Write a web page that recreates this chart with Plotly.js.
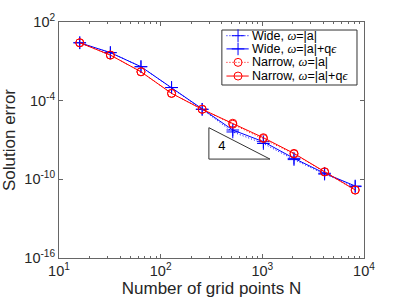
<!DOCTYPE html>
<html><head><meta charset="utf-8">
<script src="https://cdn.plot.ly/plotly-3.0.1.min.js"></script>
<style>html,body{margin:0;padding:0;background:#fff}#c{width:402px;height:302px}</style>
</head><body><div id="c"></div>
<script>
const gridPoints = [16, 32, 64, 128, 256, 512, 1024, 2048, 4096, 8192];
const wideAbs    = [2.6, 0.46, 0.039, 1.0e-3, 2.2e-5, 4.1e-7, 5.4e-8, 3.2e-9, 2.5e-10, 2.8e-11];
const wideEps    = [2.6, 0.46, 0.039, 1.0e-3, 2.2e-5, 5.8e-7, 7.4e-8, 4.0e-9, 2.9e-10, 3.1e-11];
const narrowAbs  = [2.6, 0.30, 0.016, 3.6e-4, 2.2e-5, 1.6e-6, 1.3e-7, 8.7e-9, 3.6e-10, 1.5e-11];
const narrowEps  = [2.6, 0.30, 0.016, 3.6e-4, 2.2e-5, 1.9e-6, 1.5e-7, 9.5e-9, 3.8e-10, 1.55e-11];
const seriesNames = [
  'Wide, <i style="font-family:Liberation Serif">ω</i>=|a|',
  'Wide, <i style="font-family:Liberation Serif">ω</i>=|a|+q<i style="font-family:Liberation Serif">ϵ</i>',
  'Narrow, <i style="font-family:Liberation Serif">ω</i>=|a|',
  'Narrow, <i style="font-family:Liberation Serif">ω</i>=|a|+q<i style="font-family:Liberation Serif">ϵ</i>'
];
const slopeTriX = [298, 298, 1189, 298];
const slopeTriY = [8.7e-7, 3.5e-9, 3.5e-9, 8.7e-7];
const slopeLabelX = [401];
const slopeLabelY = [2.9e-8];
const slopeLabel = ['4'];
const xTickVals = [10, 100, 1000, 10000];
const xTickText = ['10<sup>1</sup>', '10<sup>2</sup>', '10<sup>3</sup>', '10<sup>4</sup>'];
const yTickVals = [1e2, 1e-4, 1e-10, 1e-16];
const yTickText = ['10<sup>2</sup>', '10<sup>-4</sup>', '10<sup>-10</sup>', '10<sup>-16</sup>'];

const BLUE = '#0000ff', RED = '#ff0000';
const DOT = '1px,2px';
const styles = [
  {color: BLUE, dash: DOT, symbol: 'cross-thin-open'},
  {color: BLUE, dash: 'solid', symbol: 'cross-thin-open'},
  {color: RED, dash: DOT, symbol: 'circle-open'},
  {color: RED, dash: 'solid', symbol: 'circle-open'}
];
const seriesValues = [wideAbs, wideEps, narrowAbs, narrowEps];
const data = [];
seriesValues.forEach((vals, i) => {
  const s = styles[i];
  data.push({x: gridPoints, y: vals, name: seriesNames[i], type: 'scatter', mode: 'lines+markers',
    showlegend: false,
    line: {color: s.color, width: 1, dash: s.dash},
    marker: {symbol: s.symbol, size: s.symbol === 'circle-open' ? 8 : 9, color: s.color,
             line: {color: s.color, width: 1}}});
});
data.push({x: slopeTriX, y: slopeTriY, type: 'scatter', mode: 'lines', showlegend: false, hoverinfo: 'skip',
   line: {color: '#333', width: 1}});
data.push({x: slopeLabelX, y: slopeLabelY, text: slopeLabel, type: 'scatter', mode: 'text', showlegend: false,
   hoverinfo: 'skip', textfont: {family: 'Liberation Sans, Arial', size: 13, color: '#000'}});

// legend drawn on an overlay axis spanning the plot area (0..1 both ways)
const legBox = {x0: 0.534, x1: 0.977, y0: 0.733, y1: 0.966};
const legRowY = [0.942, 0.886, 0.829, 0.771];
const legLineX = [0.549, 0.622];
const legMarkX = 0.587;
const legTextX = 0.627;
const annotations = [];
seriesNames.forEach((nm, i) => {
  const s = styles[i];
  data.push({x: legLineX, y: [legRowY[i], legRowY[i]], xaxis: 'x2', yaxis: 'y2', type: 'scatter', mode: 'lines',
    showlegend: false, hoverinfo: 'skip', line: {color: s.color, width: 1, dash: s.dash}});
  data.push({x: [legMarkX], y: [legRowY[i]], xaxis: 'x2', yaxis: 'y2', type: 'scatter', mode: 'markers',
    showlegend: false, hoverinfo: 'skip',
    marker: {symbol: s.symbol, size: s.symbol === 'circle-open' ? 8 : 9, color: s.color, line: {color: s.color, width: 1}}});
  annotations.push({xref: 'paper', yref: 'paper', x: legTextX, y: legRowY[i], xanchor: 'left', yanchor: 'middle',
    text: nm, showarrow: false, font: {size: 12.5, color: '#000'}});
});

const axColor = '#666';
const layout = {
  width: 402, height: 302,
  margin: {l: 59, r: 38, t: 22, b: 44, pad: 0},
  paper_bgcolor: '#fff', plot_bgcolor: '#fff',
  font: {family: 'Liberation Sans, Arial, sans-serif', color: '#262626', size: 14.5},
  showlegend: false,
  annotations: annotations,
  shapes: [{type: 'rect', xref: 'paper', yref: 'paper', x0: legBox.x0, x1: legBox.x1, y0: legBox.y0, y1: legBox.y1,
    line: {color: '#333', width: 1}, fillcolor: '#fff', layer: 'below'}],
  xaxis: {type: 'log', range: [1, 4], tickvals: xTickVals, ticktext: xTickText,
    ticks: 'inside', ticklen: 4, tickcolor: axColor, showline: true, linecolor: axColor, linewidth: 1,
    mirror: 'ticks', showgrid: false, zeroline: false, tickfont: {size: 14.5},
    minor: {ticks: 'inside', ticklen: 2, tickcolor: axColor, dtick: 'D1', showgrid: false},
    title: {text: 'Number of grid points N', font: {size: 17}, standoff: 3}},
  yaxis: {type: 'log', range: [-16, 2], tickvals: yTickVals, ticktext: yTickText,
    ticks: 'inside', ticklen: 4, tickcolor: axColor, showline: true, linecolor: axColor, linewidth: 1,
    mirror: 'ticks', showgrid: false, zeroline: false, tickfont: {size: 14.5},
    title: {text: 'Solution error', font: {size: 17}, standoff: 4}},
  xaxis2: {overlaying: 'x', range: [0, 1], visible: false, fixedrange: true},
  yaxis2: {overlaying: 'y', range: [0, 1], visible: false, fixedrange: true}
};
Plotly.newPlot('c', data, layout, {staticPlot: true, displayModeBar: false});
</script></body></html>
